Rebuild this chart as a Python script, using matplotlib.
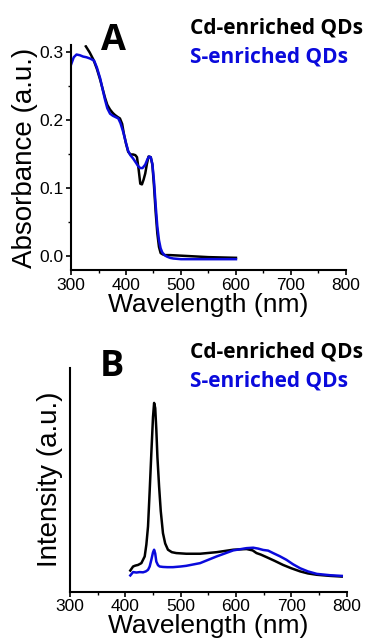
import numpy as np
from matplotlib import pyplot as plt

# panel A: absorbance spectra (wavelength nm, absorbance a.u.)
wl_abs_cd = [327, 334, 341, 347, 353, 358, 362, 366, 371, 376, 380, 385, 389, 393,
             396, 400, 404, 408, 413, 417, 420, 423, 426, 429, 432, 435, 438, 441,
             445, 448, 451, 454, 457, 460, 463, 467, 471, 480, 504, 550, 600]
abs_cd = [0.309, 0.300, 0.289, 0.276, 0.260, 0.245, 0.233, 0.223, 0.216, 0.211, 0.208,
          0.205, 0.203, 0.195, 0.181, 0.166, 0.154, 0.150, 0.150, 0.149, 0.146, 0.128,
          0.107, 0.106, 0.113, 0.122, 0.136, 0.147, 0.146, 0.135, 0.103, 0.065, 0.034,
          0.014, 0.005, 0.003, 0.002, 0.002, 0.001, -0.001, -0.002]
wl_abs_s = [300, 305, 310, 316, 322, 328, 335, 342, 347, 353, 358, 362, 366, 371, 376,
            381, 386, 390, 395, 400, 404, 408, 413, 418, 422, 426, 430, 435, 439, 442,
            445, 448, 451, 454, 457, 460, 463, 466, 470, 474, 480, 486, 500, 535, 600]
abs_s = [0.282, 0.293, 0.297, 0.296, 0.294, 0.293, 0.291, 0.288, 0.278, 0.262, 0.244,
         0.230, 0.218, 0.210, 0.207, 0.205, 0.203, 0.196, 0.183, 0.167, 0.155, 0.149,
         0.144, 0.138, 0.133, 0.130, 0.130, 0.135, 0.143, 0.147, 0.146, 0.136, 0.110,
         0.075, 0.044, 0.024, 0.012, 0.006, 0.002, 0.000, -0.002, -0.003, -0.004,
         -0.004, -0.004]

# panel B: emission spectra (wavelength nm, intensity a.u.)
wl_pl_cd = [409, 414, 418, 423, 429, 435, 438, 441, 444, 447, 450, 452, 454, 456, 458,
            461, 464, 468, 472, 477, 484, 492, 510, 535, 565, 595, 619, 630, 637, 645,
            655, 670, 685, 700, 716, 730, 746, 770, 791]
pl_cd = [0.094, 0.112, 0.116, 0.119, 0.127, 0.157, 0.210, 0.291, 0.450, 0.619, 0.780,
         0.843, 0.820, 0.724, 0.600, 0.470, 0.360, 0.261, 0.215, 0.187, 0.176, 0.172,
         0.169, 0.169, 0.176, 0.187, 0.190, 0.184, 0.172, 0.165, 0.154, 0.137, 0.119,
         0.104, 0.090, 0.081, 0.075, 0.070, 0.067]
wl_pl_s = [409, 414, 420, 426, 432, 437, 441, 444, 447, 450, 452, 454, 456, 459, 462,
           468, 476, 486, 500, 510, 535, 565, 595, 619, 631, 640, 649, 658, 667, 679,
           691, 703, 716, 730, 746, 770, 791]
pl_s = [0.072, 0.087, 0.085, 0.087, 0.086, 0.090, 0.097, 0.112, 0.142, 0.175, 0.187,
        0.170, 0.134, 0.118, 0.112, 0.110, 0.109, 0.109, 0.112, 0.115, 0.127, 0.157,
        0.184, 0.194, 0.196, 0.192, 0.186, 0.183, 0.172, 0.158, 0.142, 0.122, 0.104,
        0.090, 0.079, 0.073, 0.070]

BLUE = "#0a0adc"
LABEL_FONT = "Open Sans"

plt.rcParams["font.family"] = ["Liberation Sans", "DejaVu Sans"]

fig = plt.figure(figsize=(3.67, 6.43), dpi=100)
ax1 = fig.add_axes([0.1935, 0.580, 0.749, 0.350])
ax2 = fig.add_axes([0.1907, 0.080, 0.754, 0.348])

ax1.plot(wl_abs_cd, abs_cd, color="black", linewidth=1.8)
ax1.plot(wl_abs_s, abs_s, color=BLUE, linewidth=1.8)
ax1.set_ylim(-0.02, 0.311)
ax1.set_yticks([0.0, 0.1, 0.2, 0.3])
ax1.set_yticks([0.05, 0.15, 0.25], minor=True)
ax1.set_ylabel("Absorbance (a.u.)", fontsize=20, labelpad=0.5)

ax2.plot(wl_pl_cd, pl_cd, color="black", linewidth=1.8)
ax2.plot(wl_pl_s, pl_s, color=BLUE, linewidth=1.8)
ax2.set_ylim(0, 1)
ax2.set_yticks([])
ax2.set_ylabel("Intensity (a.u.)", fontsize=20, labelpad=5)

for ax in (ax1, ax2):
    ax.set_xlim(300, 800)
    ax.set_xticks([300, 400, 500, 600, 700, 800])
    ax.set_xticks([350, 450, 550, 650, 750], minor=True)
    ax.set_xlabel("Wavelength (nm)", fontsize=19, labelpad=0)
    ax.spines["top"].set_visible(False)
    ax.spines["right"].set_visible(False)
    ax.spines["left"].set_linewidth(1.5)
    ax.spines["bottom"].set_linewidth(1.5)
    ax.tick_params(which="major", direction="out", length=3.5, width=1.2,
                   labelsize=12.5, pad=2)
    ax.tick_params(which="minor", direction="out", length=2.5, width=1.0)
    ax.patch.set_alpha(0)

# panel letters and legends as text
fig.text(0.308, 0.937, "A", fontsize=26, fontweight="bold", family=LABEL_FONT,
         ha="center", va="center")
fig.text(0.518, 0.956, "Cd-enriched QDs", fontsize=15, fontweight="bold",
         family=LABEL_FONT, color="black", ha="left", va="center")
fig.text(0.518, 0.911, "S-enriched QDs", fontsize=15, fontweight="bold",
         family=LABEL_FONT, color=BLUE, ha="left", va="center")

fig.text(0.305, 0.429, "B", fontsize=26, fontweight="bold", family=LABEL_FONT,
         ha="center", va="center")
fig.text(0.518, 0.452, "Cd-enriched QDs", fontsize=15, fontweight="bold",
         family=LABEL_FONT, color="black", ha="left", va="center")
fig.text(0.518, 0.408, "S-enriched QDs", fontsize=15, fontweight="bold",
         family=LABEL_FONT, color=BLUE, ha="left", va="center")

fig.savefig("out.png", dpi=100)
